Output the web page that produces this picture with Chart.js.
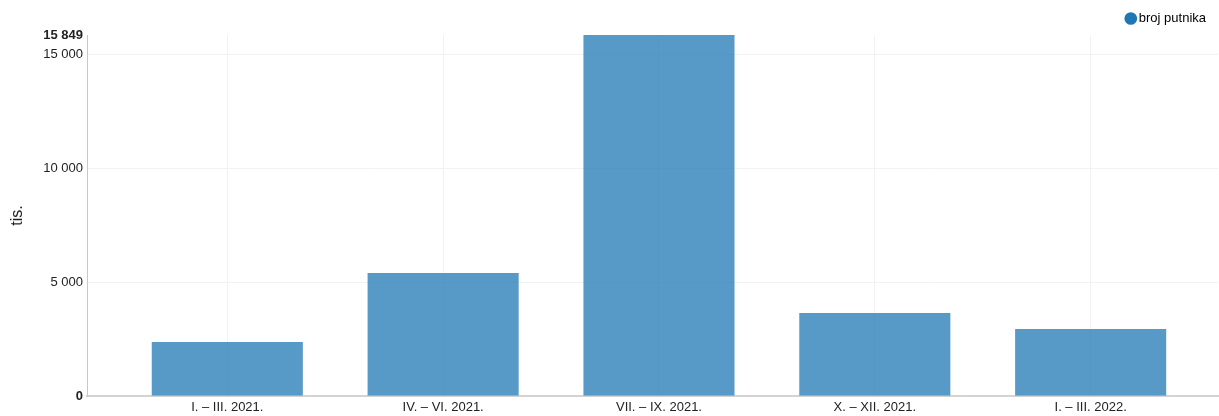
<!DOCTYPE html>
<html>
<head>
<meta charset="utf-8">
<script src="https://cdn.jsdelivr.net/npm/chart.js@4.4.1/dist/chart.umd.min.js"></script>
<style>
  html, body { margin: 0; padding: 0; background: #fff; }
  #wrap { width: 1219px; height: 416px; position: relative; }
</style>
</head>
<body>
<div id="wrap"><canvas id="chart"></canvas></div>
<script>
// podaci – broj putnika po tromjesečjima (tis.)
const quarters = ['I. – III. 2021.', 'IV. – VI. 2021.', 'VII. – IX. 2021.', 'X. – XII. 2021.', 'I. – III. 2022.'];
const passengers = [2368, 5395, 15849, 3640, 2939];
const yTicks = [0, 5000, 10000, 15000, 15849];
const boldTicks = [0, 15849];

const fmt = v => String(v).replace(/\B(?=(\d{3})+(?!\d))/g, ' ');
const FONT = "'Liberation Sans', Arial, sans-serif";

Chart.defaults.font.family = FONT;
Chart.defaults.color = '#222';

new Chart(document.getElementById('chart'), {
    type: 'bar',
    data: {
        datasets: [{
            label: 'broj putnika',
            data: passengers.map((v, i) => ({ x: i, y: v })),
            backgroundColor: 'rgba(31,119,180,0.75)',
            borderWidth: 0,
            barPercentage: 0.7,
            categoryPercentage: 1
        }]
    },
    options: {
        responsive: true,
        maintainAspectRatio: false,
        animation: false,
        layout: { padding: { top: 0, right: 1 } },
        plugins: {
            tooltip: { enabled: false },
            legend: {
                position: 'top',
                align: 'end',
                labels: {
                    usePointStyle: true,
                    pointStyle: 'circle',
                    boxWidth: 3,
                    boxHeight: 9,
                    padding: 12,
                    color: '#222',
                    font: { size: 13 },
                    generateLabels: chart => [{
                        text: 'broj putnika',
                        fillStyle: '#1f77b4',
                        strokeStyle: '#1f77b4',
                        lineWidth: 0,
                        pointStyle: 'circle',
                        datasetIndex: 0,
                        hidden: false
                    }]
                }
            }
        },
        scales: {
            x: {
                type: 'linear',
                offset: false,
                min: -0.65,
                max: 4.59,
                afterBuildTicks: s => { s.ticks = quarters.map((q, i) => ({ value: i })); },
                afterFit: s => { s.height = 20; },
                ticks: {
                    callback: v => quarters[v],
                    padding: 4,
                    maxRotation: 0,
                    autoSkip: false,
                    font: { size: 13 },
                    color: '#222'
                },
                grid: { color: '#f2f2f2', drawTicks: false, offset: false },
                border: { color: '#d3d3d3', width: 2 }
            },
            y: {
                min: 0,
                max: 15849,
                afterBuildTicks: s => { s.ticks = yTicks.map(v => ({ value: v })); },
                afterFit: s => { s.width = 87; },
                ticks: {
                    callback: v => fmt(v),
                    padding: 4,
                    font: ctx => ({ size: 13, weight: boldTicks.includes(ctx.tick && ctx.tick.value) ? 'bold' : 'normal' }),
                    color: '#222'
                },
                grid: {
                    color: ctx => (ctx.tick && ctx.tick.value === 15849) ? 'rgba(0,0,0,0)' : '#f2f2f2',
                    drawTicks: false
                },
                border: { color: '#c8c8c8', width: 1 },
                title: { display: true, text: 'tis.', font: { size: 16 }, color: '#222', padding: { top: 8, bottom: 0 } }
            }
        }
    }
});
</script>
</body>
</html>
